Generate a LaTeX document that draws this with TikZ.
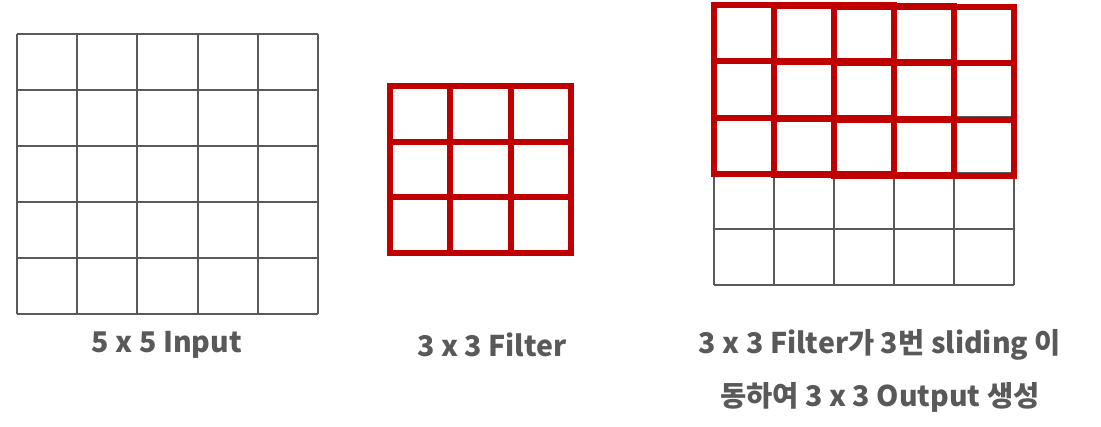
\documentclass[tikz,border=0pt]{standalone}
\usepackage{fontspec}
\usepackage{tikz}
\usetikzlibrary{positioning, calc}
\newfontfamily\krfont{Noto Sans CJK KR}
\definecolor{gridgray}{HTML}{595959}
\definecolor{filterred}{HTML}{C00000}
\definecolor{labelgray}{HTML}{595959}

\begin{document}
\begin{tikzpicture}[x=1pt, y=-1pt,
  gridline/.style={draw=gridgray, line width=2pt},
  filterline/.style={draw=filterred, line width=6pt},
  caption/.style={font=\krfont\bfseries\fontsize{28.5}{53}\selectfont, text=labelgray, align=center}]
  \useasboundingbox (0,0) rectangle (1101,426);

  % 5 x 5 input grid
  \foreach \i in {0,...,5} {
    \draw[gridline] (17+60.2*\i,34) -- (17+60.2*\i,314);
    \draw[gridline] (17,34+56*\i) -- (318,34+56*\i);
  }

  % 3 x 3 filter
  \draw[filterline] (390,86) rectangle (571,253);
  \foreach \i in {1,2} {
    \draw[filterline] (390+60.3*\i,86) -- (390+60.3*\i,253);
    \draw[filterline] (390,86+55.7*\i) -- (571,86+55.7*\i);
  }

  % input grid under the sliding filter
  \foreach \i in {0,...,5} {
    \draw[gridline] (714+60*\i,5) -- (714+60*\i,285);
    \draw[gridline] (714,5+56*\i) -- (1014,5+56*\i);
  }

  % three filter positions
  \foreach \k/\dy in {0/5, 1/6, 2/7} {
    \draw[filterline] (714+60*\k,\dy) rectangle (894+60*\k,\dy+169);
    \foreach \i in {1,2} {
      \draw[filterline] (714+60*\k+60*\i,\dy) -- (714+60*\k+60*\i,\dy+169);
      \draw[filterline] (714+60*\k,\dy+56.3*\i) -- (894+60*\k,\dy+56.3*\i);
    }
  }

  % Labels
  \node[caption] (input) at (167,345) {5 x 5 Input};
  \node[caption] (filter) at (492,345) {3 x 3 Filter};
  \node[caption] (output) at (880,371) {3 x 3 Filter가 3번 sliding 이\\동하여 3 x 3 Output 생성};
\end{tikzpicture}
\end{document}
